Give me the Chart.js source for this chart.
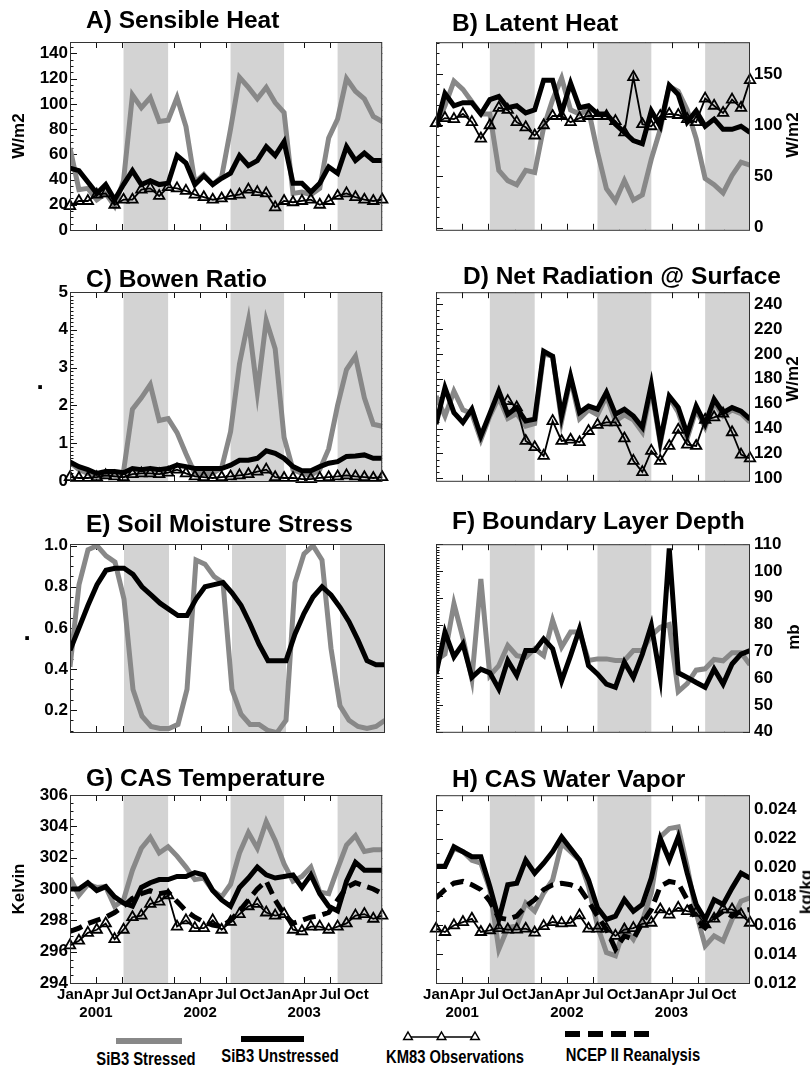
<!DOCTYPE html>
<html><head><meta charset="utf-8">
<script src="https://cdn.jsdelivr.net/npm/chart.js@4"></script>
<style>
html,body{margin:0;padding:0;background:#fff;}
body{width:810px;height:1067px;position:relative;overflow:hidden;font-family:"Liberation Sans",Arial,Helvetica,sans-serif;color:#000;}
canvas{position:absolute;}
.ttl{position:absolute;font-weight:bold;font-size:24.5px;line-height:1;white-space:nowrap;}
.ytl{position:absolute;font-weight:bold;font-size:17px;line-height:1;white-space:nowrap;transform:translate(-50%,-50%) rotate(-90deg);}
.lg{position:absolute;font-weight:bold;line-height:1;white-space:nowrap;}
</style></head><body>
<script>
// ---------------- data (monthly, Jan 2001 .. Dec 2003) ----------------
const months = ['Jan','Feb','Mar','Apr','May','Jun','Jul','Aug','Sep','Oct','Nov','Dec'];
const years = ['2001','2002','2003'];
const tickMonths = ['Jan','Apr','Jul','Oct','Jan','Apr','Jul','Oct','Jan','Apr','Jul','Oct'];
const tickYears  = ['','2001','','','','2002','','','','2003','',''];
// dry-season shading, in month index
const shadeStart = [6, 18, 30];
const shadeEnd   = [11, 24, 35];

const sensStressed   = [65,32,33,24,29,19,39,107,97,105,86,87,105,82,38,44,36,42,80,121,113,104,113,101,93,29,30,28,33,73,88,120,110,104,90,86];
const sensUnstressed = [49,47,38,29,36,24,36,47,36,39,36,37,59,53,36,43,36,41,45,59,51,55,66,59,70,37,37,30,37,50,45,66,55,61,55,55];
const sensObs        = [19,23,23,28,29,20,24,24,32,33,27,34,33,31,28,26,24,25,27,28,32,30,29,18,23,22,23,24,20,23,27,29,26,24,23,24];
const sensTicks = [0,20,40,60,80,100,120,140];

const latStressed   = [99,119,143,135,123,111,111,56,46,42,56,54,98,125,146,115,111,115,74,38,26,46,27,32,67,96,138,133,115,87,48,42,34,51,64,61];
const latUnstressed = [98,131,119,122,122,111,125,128,117,119,112,115,144,144,112,141,117,119,111,111,101,93,85,82,114,99,139,130,103,114,99,106,96,96,99,93];
const latObs        = [102,107,106,111,103,87,100,117,115,103,98,90,100,109,109,103,107,109,109,109,104,93,147,101,99,109,111,110,106,103,126,119,112,125,117,144];
const latTicks = [0,50,100,150];

const bowenStressed   = [0.5,0.3,0.2,0.12,0.16,0.16,0.25,1.9,2.2,2.55,1.6,1.65,1.28,0.72,0.2,0.2,0.2,0.35,1.3,3.1,4.25,2.35,4.25,3.5,1.15,0.3,0.2,0.15,0.3,0.85,2.0,2.95,3.3,2.2,1.5,1.45];
const bowenUnstressed = [0.5,0.38,0.3,0.2,0.25,0.25,0.22,0.33,0.3,0.33,0.3,0.33,0.42,0.38,0.33,0.33,0.33,0.33,0.42,0.55,0.55,0.6,0.8,0.73,0.6,0.38,0.27,0.27,0.38,0.47,0.51,0.65,0.66,0.69,0.6,0.6];
const bowenObs        = [0.1,0.08,0.08,0.1,0.15,0.12,0.1,0.18,0.2,0.2,0.18,0.22,0.3,0.2,0.12,0.1,0.08,0.1,0.12,0.15,0.18,0.25,0.3,0.1,0.08,0.08,0.05,0.05,0.08,0.1,0.12,0.15,0.12,0.1,0.08,0.1];
const bowenTicks = [0,1,2,3,4,5];

const rnetStressed   = [166,150,170,155,152,131,150,165,148,152,142,144,200,198,146,180,148,155,151,166,146,151,147,137,172,128,165,153,132,155,141,161,150,155,152,145];
const rnetUnstressed = [143.5,172.8,152.8,144.8,155.5,134,152,170,151.5,156.8,146,147.5,202,198,150,182,152.8,158,155.5,169,151.5,155.5,150,141,175.5,130,166,157,135.5,158,143.5,163.5,152.8,156.8,154,147.5];
const rnetObs        = [null,null,null,null,null,null,null,null,162,157,130,125,118,146,130,131,129,138,143,145,145,132,114,105,122,114,126,139,127,126,147,149,152,137,119,116];
const rnetTicks = [100,120,140,160,180,200,220,240];

const smsStressed   = [0.41,0.81,0.98,1.0,0.95,0.92,0.74,0.30,0.17,0.12,0.11,0.11,0.13,0.30,0.93,0.91,0.85,0.82,0.30,0.18,0.13,0.13,0.10,0.09,0.15,0.82,0.96,1.0,0.93,0.50,0.22,0.15,0.12,0.11,0.12,0.15];
const smsUnstressed = [0.49,0.6,0.71,0.81,0.88,0.89,0.89,0.86,0.80,0.76,0.72,0.69,0.66,0.66,0.74,0.80,0.81,0.82,0.77,0.71,0.62,0.52,0.44,0.44,0.44,0.57,0.67,0.75,0.80,0.76,0.70,0.63,0.54,0.44,0.42,0.42];
const smsTicks = [0.2,0.4,0.6,0.8,1.0];

const pblStressed   = [66.6,69,87.8,75,59.7,97,61,64.7,72.2,68.4,67.8,71,68.4,81.6,71.6,77.2,77.2,66.6,67.2,67.2,66.6,66.6,70.3,70.3,76,79,80,55,58,63,63.5,67,66.5,69.5,69.5,65];
const pblUnstressed = [61.6,77.2,68,72.8,60.3,63.4,62,56,66.6,61,70.3,70.3,74.7,71,59,68.4,78.4,64.7,61.6,57.8,56.6,66,60.3,69,79.7,60.3,108.4,62,60.3,58.4,56.6,63.4,57.8,65.3,69,70.3];
const pblTicks = [40,50,60,70,80,90,100,110];

const tcasStressed   = [300.7,299.6,300.3,300.1,300.15,298.9,299.3,301.2,302.6,303.3,302.3,302.7,302.1,301.4,300.6,300.7,299.9,299.5,300.3,302.3,303.6,302.6,304.3,303.1,301.6,300.5,300.8,301.4,299.8,299.7,301.3,302.8,303.4,302.4,302.5,302.5];
const tcasUnstressed = [300,300,300.4,299.9,300.15,299.5,299.1,298.9,300.1,300.4,300.6,300.6,300.8,300.8,301.05,300.9,299.9,299.3,298.9,300.1,300.7,301.4,300.9,300.7,300.8,300.9,300.1,300.9,299.7,298.9,298.6,300.5,301.7,301.2,301.2,301.2];
const tcasNcep       = [297.3,297.5,297.8,298.0,298.2,298.5,298.9,299.4,299.7,299.9,299.7,299.8,299.2,298.6,298.2,297.9,297.7,297.6,298.0,298.6,299.3,300.0,300.5,299.3,298.4,297.8,298.0,298.2,298.3,298.5,299.3,300.1,300.4,300.2,300.0,299.7];
const tcasObs        = [296.4,296.7,297.2,297.4,297.8,296.8,297.4,298.2,298.3,299.05,299.2,299.6,297.6,298.0,297.5,297.5,298.0,297.4,297.9,298.4,298.9,299.05,298.5,298.3,298.4,297.4,297.3,297.6,297.6,297.4,297.6,297.8,298.3,298.4,298.1,298.3];
const tcasTicks = [294,296,298,300,302,304,306];

const qcasStressed   = [0.0201,0.0201,0.0213,0.0211,0.0205,0.0203,0.0185,0.01434,0.01583,0.01594,0.01754,0.01697,0.01823,0.01914,0.02166,0.02109,0.0205,0.01869,0.01594,0.01411,0.01389,0.01583,0.01503,0.01629,0.01823,0.02211,0.02269,0.0228,0.02006,0.01686,0.01457,0.01526,0.01491,0.0164,0.01766,0.01789];
const qcasUnstressed = [0.02006,0.02006,0.02143,0.02109,0.02074,0.02074,0.01869,0.0164,0.0188,0.01891,0.02051,0.0196,0.02029,0.02109,0.02211,0.02131,0.02051,0.01914,0.0172,0.0164,0.01663,0.01777,0.01697,0.01743,0.01926,0.022,0.02051,0.02211,0.0196,0.01743,0.0164,0.01777,0.01743,0.01857,0.0196,0.01926];
const qcasNcep       = [0.01789,0.01846,0.01891,0.01903,0.0188,0.01846,0.01766,0.01651,0.0164,0.01663,0.01731,0.01777,0.01846,0.0188,0.01891,0.0188,0.01857,0.01766,0.01663,0.01571,0.01434,0.01526,0.01503,0.01617,0.01709,0.01869,0.01903,0.01891,0.01777,0.0164,0.01583,0.01651,0.01697,0.01663,0.01697,0.01709];
const qcasObs        = [0.01576,0.01553,0.01599,0.01622,0.01645,0.01553,0.01565,0.0158,0.0157,0.0157,0.01576,0.01549,0.01594,0.01622,0.01613,0.01617,0.01668,0.01576,0.01576,0.01576,0.01526,0.0157,0.0158,0.0161,0.01617,0.01709,0.01674,0.0172,0.01697,0.01686,0.01606,0.01645,0.01709,0.01709,0.01674,0.01617];
const qcasTicks = [0.012,0.014,0.016,0.018,0.020,0.022,0.024];

// ---------------- styling / layout ----------------
const GRAY = '#888888', SHADE = '#d3d3d3', BLACK = '#000000';
const ROW_TOP = [42, 292, 544, 795], ROW_BOT = [230, 481, 732, 983];
const COL_L = [70, 436], COL_R = [385, 750];
const N = 36;
// quarterly tick positions on the month-index axis
const QUARTER_POS = tickMonths.map((m, q) => q * 3 * (N - 1) / N);

function hasFont(name){
  const c = document.createElement('canvas').getContext('2d');
  const s = 'KM83 Observations JanAprJulOct';
  c.font = 'bold 18px monospace'; const w1 = c.measureText(s).width;
  c.font = 'bold 18px "' + name + '", monospace'; const w2 = c.measureText(s).width;
  return Math.abs(w1 - w2) > 0.5;
}
const NARROW = hasFont('Liberation Sans Narrow');
const LBL_FAMILY = NARROW ? '"Liberation Sans Narrow", "Liberation Sans", Arial, sans-serif' : '"Liberation Sans", Arial, sans-serif';
const LBL_SIZE = NARROW ? 18 : 15;

const panels = [
  {row:0,col:0,min:0,max:149,ticks:sensTicks,minor:5,dec:0,series:[['s',sensStressed],['u',sensUnstressed],['o',sensObs]]},
  {row:0,col:1,min:-2,max:181,ticks:latTicks,minor:10,dec:0,series:[['s',latStressed],['u',latUnstressed],['o',latObs]]},
  {row:1,col:0,min:0,max:5,ticks:bowenTicks,minor:0.1,dec:0,series:[['s',bowenStressed],['u',bowenUnstressed],['o',bowenObs]]},
  {row:1,col:1,min:98,max:249.5,ticks:rnetTicks,minor:5,dec:0,series:[['s',rnetStressed],['u',rnetUnstressed],['o',rnetObs]]},
  {row:2,col:0,min:0.093,max:1.008,ticks:smsTicks,minor:0.05,dec:1,series:[['s',smsStressed],['u',smsUnstressed]]},
  {row:2,col:1,min:40,max:110,ticks:pblTicks,minor:1,dec:0,series:[['s',pblStressed],['u',pblUnstressed]]},
  {row:3,col:0,min:294,max:306,ticks:tcasTicks,minor:0.5,dec:0,series:[['s',tcasStressed],['u',tcasUnstressed],['n',tcasNcep],['o',tcasObs]]},
  {row:3,col:1,min:0.012,max:0.025,ticks:qcasTicks,minor:0.001,dec:3,series:[['s',qcasStressed],['u',qcasUnstressed],['n',qcasNcep],['o',qcasObs]]}
];

const STYLE = {
  s:{borderColor:GRAY,borderWidth:5,order:3},
  u:{borderColor:BLACK,borderWidth:5,order:2},
  n:{borderColor:BLACK,borderWidth:5,borderDash:[13,7],order:1},
  o:{borderColor:BLACK,borderWidth:1.8,order:0,pointStyle:'triangle',pointRadius:6,pointBorderWidth:1.8,
     pointBorderColor:BLACK,pointBackgroundColor:'rgba(0,0,0,0)',clip:false}
};

const framePlugin = {
  id:'frame',
  beforeDatasetsDraw(chart, args, opts){
    const {ctx, chartArea:a, scales:{x, y}} = chart;
    ctx.save();
    ctx.strokeStyle = '#111'; ctx.lineWidth = 1;
    ctx.beginPath();
    for (const t of x.ticks){
      const px = Math.round(x.getPixelForValue(t.value)) + 0.5;
      ctx.moveTo(px, a.bottom); ctx.lineTo(px, a.bottom - 6);
      ctx.moveTo(px, a.top); ctx.lineTo(px, a.top + 6);
    }
    for (const t of y.ticks){
      const py = Math.round(y.getPixelForValue(t.value)) + 0.5;
      ctx.moveTo(a.left, py); ctx.lineTo(a.left + 7, py);
      ctx.moveTo(a.right, py); ctx.lineTo(a.right - 7, py);
    }
    const m = opts.minor;
    const k0 = Math.ceil(y.min / m - 1e-6), k1 = Math.floor(y.max / m + 1e-6);
    for (let k = k0; k <= k1; k++){
      const py = Math.round(y.getPixelForValue(k * m)) + 0.5;
      ctx.moveTo(a.left, py); ctx.lineTo(a.left + 3.5, py);
      ctx.moveTo(a.right, py); ctx.lineTo(a.right - 3.5, py);
    }
    ctx.stroke();
    ctx.fillStyle = SHADE;
    for (let i = 0; i < shadeStart.length; i++){
      const x0 = x.getPixelForValue(shadeStart[i]), x1 = x.getPixelForValue(shadeEnd[i]);
      ctx.fillRect(x0, a.top, x1 - x0, a.bottom - a.top);
    }
    ctx.restore();
  },
  afterDatasetsDraw(chart){
    const {ctx, chartArea:a} = chart;
    ctx.save();
    ctx.strokeStyle = '#333'; ctx.lineWidth = 1;
    ctx.strokeRect(a.left + 0.5, a.top + 0.5, a.right - a.left - 1, a.bottom - a.top);
    ctx.restore();
  }
};

panels.forEach(p => {
  const L = p.col ? 20 : 65, R = p.col ? 60 : 5, T = 14, B = p.row === 3 ? 60 : 14;
  const pl = COL_L[p.col], pr = COL_R[p.col], pt = ROW_TOP[p.row], pb = ROW_BOT[p.row];
  const cv = document.createElement('canvas');
  const W = pr - pl + L + R, H = pb - pt + T + B;
  cv.width = W; cv.height = H;
  cv.style.left = (pl - L) + 'px'; cv.style.top = (pt - T) + 'px';
  cv.style.width = W + 'px'; cv.style.height = H + 'px';
  document.body.appendChild(cv);
  const datasets = p.series.map(([k, arr]) => Object.assign({
    data: arr.map((v, i) => ({x: i, y: v})),
    pointRadius: 0, tension: 0, fill: false, spanGaps: false
  }, STYLE[k]));
  new Chart(cv, {
    type: 'line',
    data: {datasets},
    options: {
      responsive: false, animation: false, devicePixelRatio: 1,
      layout: {padding: {top: T, bottom: 0, left: p.col ? L : 0, right: p.col ? 0 : R}},
      plugins: {legend: {display: false}, tooltip: {enabled: false}, frame: {minor: p.minor}},
      scales: {
        x: {
          type: 'linear', min: 0, max: N - 1,
          grid: {display: false, drawTicks: false}, border: {display: false},
          afterBuildTicks: s => { s.ticks = QUARTER_POS.map(v => ({value: v})); },
          afterFit: s => { s.height = B; },
          ticks: {
            display: p.row === 3, autoSkip: false, maxRotation: 0, minRotation: 0, padding: 3, color: '#000',
            font: {family: LBL_FAMILY, size: LBL_SIZE, weight: 'bold', lineHeight: 1.2},
            callback: (v, i) => tickYears[i] ? [tickMonths[i], tickYears[i]] : tickMonths[i]
          }
        },
        y: {
          type: 'linear', position: p.col ? 'right' : 'left', min: p.min, max: p.max,
          grid: {display: false, drawTicks: false}, border: {display: false},
          afterBuildTicks: s => { s.ticks = p.ticks.map(v => ({value: v})); },
          afterFit: s => { s.width = p.col ? R : L; },
          ticks: {
            padding: p.col ? 4 : 2, color: '#000',
            font: {family: '"Liberation Sans", Arial, sans-serif', size: 17, weight: 'bold'},
            callback: v => Number(v).toFixed(p.dec)
          }
        }
      }
    },
    plugins: [framePlugin]
  });
});

// ---------------- text: titles, axis titles, legend ----------------
function addDiv(cls, text, css){
  const d = document.createElement('div');
  d.className = cls; d.textContent = text;
  Object.assign(d.style, css);
  document.body.appendChild(d);
  return d;
}
const titles = [
  ['A) Sensible Heat', 86, 8.3], ['B) Latent Heat', 452, 10.5],
  ['C) Bowen Ratio', 86, 267.3], ['D) Net Radiation @ Surface', 463, 264.3],
  ['E) Soil Moisture Stress', 86, 512.3], ['F) Boundary Layer Depth', 452, 509.3],
  ['G) CAS Temperature', 86, 766.3], ['H) CAS Water Vapor', 452, 767.3]
];
titles.forEach(([t, x, y]) => addDiv('ttl', t, {left: x + 'px', top: y + 'px'}));

const yTitles = [
  ['W/m2', 18, 136], ['W/m2', 792, 135], ['W/m2', 792, 379], ['mb', 793, 637],
  ['Kelvin', 18, 889], ['kg/kg', 806, 892]
];
yTitles.forEach(([t, x, y]) => addDiv('ytl', t, {left: x + 'px', top: y + 'px'}));
// blank (dot) axis titles of panels C and E
[[40, 387], [27, 638]].forEach(([x, y]) => addDiv('ttl', '.', {fontSize: '26px', left: (x - 3.6) + 'px', top: (y - 20.2) + 'px'}));

// legend
const legendItems = ['SiB3 Stressed', 'SiB3 Unstressed', 'KM83 Observations', 'NCEP II Reanalysis'];
const legendPos = [[146, 1059], [280, 1056], [455, 1057], [633, 1055]];
legendItems.forEach((t, i) => {
  const css = {left: legendPos[i][0] + 'px', top: legendPos[i][1] + 'px', fontFamily: LBL_FAMILY,
               fontSize: '18px', transform: 'translate(-50%,-50%)' + (NARROW ? '' : ' scaleX(0.82)')};
  addDiv('lg', t, css);
});
const svgNS = 'http://www.w3.org/2000/svg';
const svg = document.createElementNS(svgNS, 'svg');
svg.setAttribute('width', '810'); svg.setAttribute('height', '60');
Object.assign(svg.style, {position: 'absolute', left: '0px', top: '1010px'});
function sv(tag, attrs){ const e = document.createElementNS(svgNS, tag); for (const k in attrs) e.setAttribute(k, attrs[k]); svg.appendChild(e); return e; }
sv('line', {x1:116, y1:31, x2:182, y2:31, stroke:GRAY, 'stroke-width':6});
sv('line', {x1:241, y1:29, x2:304, y2:29, stroke:BLACK, 'stroke-width':6});
sv('line', {x1:408, y1:27, x2:475, y2:27, stroke:BLACK, 'stroke-width':1.6});
[408, 441.5, 475].forEach(cx => sv('polygon', {points: `${cx},${27-5} ${cx+4.3},${27+2.5} ${cx-4.3},${27+2.5}`, fill:'#fff', stroke:BLACK, 'stroke-width':1.5}));
sv('line', {x1:565, y1:24, x2:652, y2:24, stroke:BLACK, 'stroke-width':6, 'stroke-dasharray':'15 8'});
document.body.appendChild(svg);
</script>
</body></html>
